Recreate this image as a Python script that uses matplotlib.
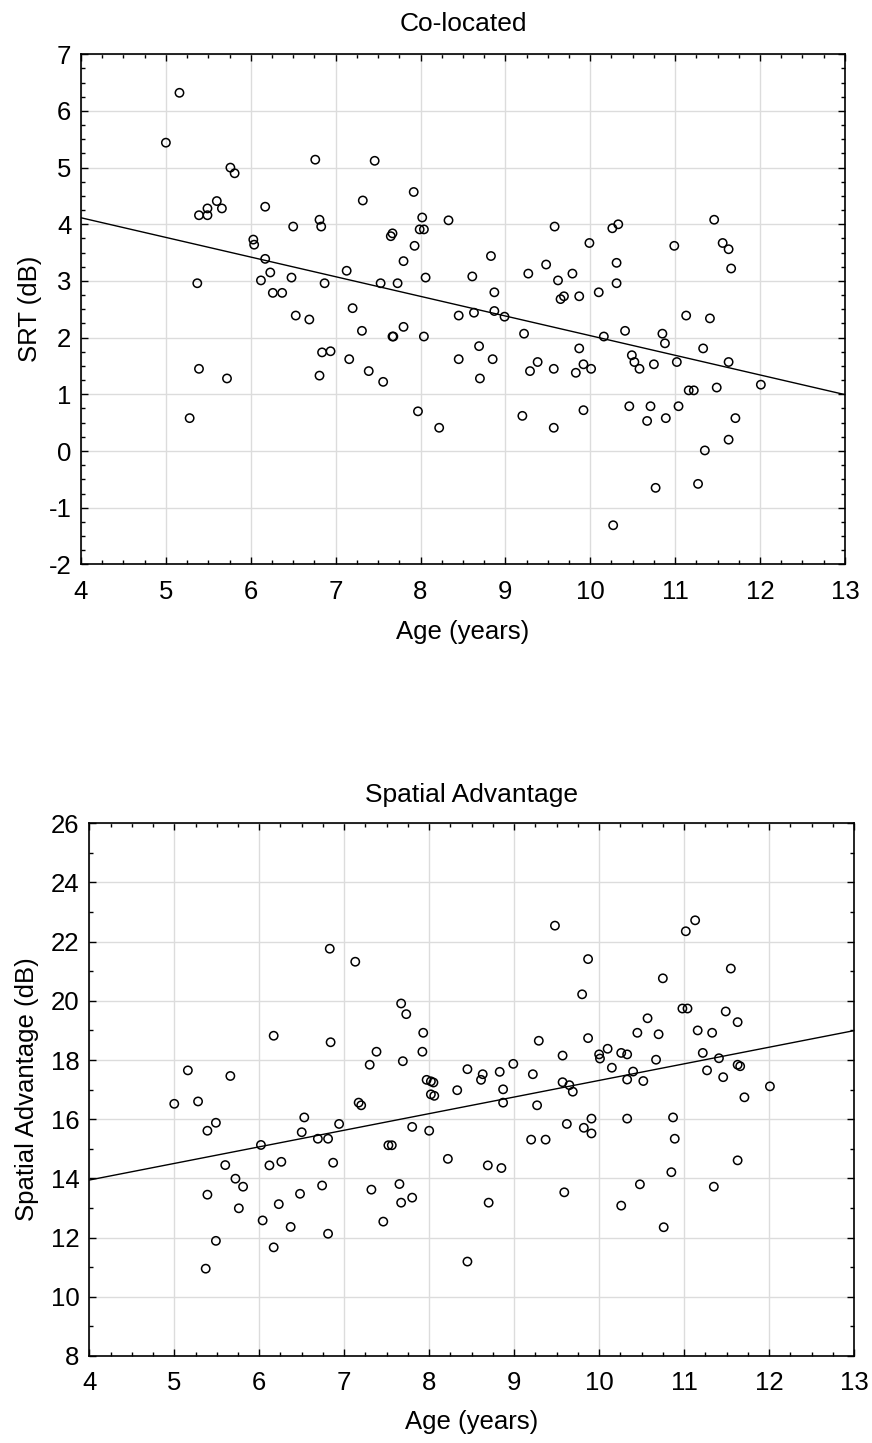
import numpy as np
import matplotlib
matplotlib.use("Agg")
import matplotlib.pyplot as plt
from matplotlib.ticker import MultipleLocator

plt.rcParams['font.family'] = ['Liberation Sans', 'DejaVu Sans']
plt.rcParams['axes.unicode_minus'] = False

# Co-located SRT (dB) vs age (years)
age_top = [5.16, 5.00, 5.76, 5.81, 6.76, 5.39, 5.49, 5.49, 5.60, 5.66, 6.17, 6.50,
           6.81, 6.83, 6.03, 6.04, 6.17, 6.23, 6.12, 6.48, 6.87, 6.26, 6.37, 6.53,
           6.69, 5.37, 6.84, 6.94, 6.81, 5.39, 5.72, 5.28,
           7.46, 7.32, 7.92, 8.02, 7.99, 8.04, 8.33, 7.67, 7.65, 7.93, 7.80, 7.13,
           7.53, 7.73, 8.06, 7.20, 7.31, 7.16, 7.39, 7.56, 7.67, 7.68, 7.80, 8.04,
           7.97, 8.22, 8.45, 8.63, 8.61, 8.83, 8.87, 8.87, 8.99, 8.45, 8.69, 8.85,
           8.70, 9.27, 9.48, 9.58, 9.62, 9.79, 9.99, 9.65, 9.69, 9.87, 9.22, 9.87,
           9.92, 10.01, 9.83, 9.57, 9.38, 9.29, 9.92, 9.20, 9.57,
           10.26, 10.33, 10.31, 10.31, 10.10, 10.99, 11.46, 11.56, 11.63, 11.66,
           11.13, 11.41, 10.41, 10.16, 10.85, 10.88, 11.33, 10.49, 10.52, 10.58,
           10.75, 11.02, 11.63, 11.16, 11.22, 11.49, 12.01, 10.46, 10.71, 11.04,
           10.67, 10.89, 11.71, 11.63, 11.35, 10.77, 11.27, 10.27]
srt_top = [6.32, 5.44, 5.00, 4.90, 5.14, 4.16, 4.28, 4.16, 4.41, 4.28, 4.31, 3.96,
           4.08, 3.96, 3.73, 3.64, 3.39, 3.15, 3.01, 3.06, 2.96, 2.79, 2.79, 2.39,
           2.32, 2.96, 1.74, 1.76, 1.33, 1.45, 1.28, 0.58,
           5.12, 4.42, 4.57, 4.12, 3.91, 3.91, 4.07, 3.84, 3.79, 3.62, 3.35, 3.18,
           2.96, 2.96, 3.06, 2.52, 2.12, 1.62, 1.41, 1.22, 2.02, 2.02, 2.19, 2.02,
           0.70, 0.41, 2.39, 2.44, 3.08, 3.44, 2.80, 2.47, 2.37, 1.62, 1.85, 1.62,
           1.28, 3.13, 3.29, 3.96, 3.01, 3.13, 3.67, 2.68, 2.73, 2.73, 2.07, 1.81,
           1.53, 1.45, 1.38, 1.45, 1.57, 1.41, 0.72, 0.62, 0.41,
           3.93, 4.00, 3.32, 2.96, 2.80, 3.62, 4.08, 3.67, 3.56, 3.22,
           2.39, 2.34, 2.12, 2.02, 2.07, 1.90, 1.81, 1.69, 1.57, 1.45,
           1.53, 1.57, 1.57, 1.07, 1.07, 1.12, 1.17, 0.79, 0.79, 0.79,
           0.53, 0.58, 0.58, 0.20, 0.01, -0.65, -0.58, -1.31]

# Spatial advantage (dB) vs age (years)
age_bot = [6.83, 6.17, 6.84, 5.16, 5.66, 5.00, 5.28, 5.49, 5.39, 6.53, 6.50, 6.94,
           6.02, 6.69, 6.81, 5.60, 6.12, 6.26, 6.87, 5.72, 5.81, 5.39, 6.48, 6.74,
           5.76, 6.23, 6.04, 6.37, 5.49, 6.17, 6.81, 5.37,
           7.13, 7.67, 7.73, 7.93, 7.38, 7.92, 7.30, 7.69, 7.97, 8.02, 8.05, 8.02,
           8.06, 7.17, 7.20, 7.80, 8.00, 7.52, 7.56, 8.22, 7.32, 7.65, 7.67, 7.80,
           7.46, 8.45, 8.45, 8.33, 8.63, 8.61, 8.83, 8.87, 8.87, 8.99, 8.69, 8.85,
           8.70, 9.48, 9.87, 9.80, 9.29, 9.87, 9.57, 9.22, 9.57, 9.65, 9.69, 9.27,
           9.91, 9.62, 9.82, 9.91, 9.20, 9.37, 9.59,
           11.02, 11.13, 11.55, 10.75, 10.98, 11.04, 11.49, 11.63, 10.57, 10.45,
           10.70, 11.16, 11.33, 10.10, 10.00, 10.01, 10.26, 10.33, 10.67, 11.22,
           11.41, 10.15, 10.40, 10.33, 10.52, 11.27, 11.46, 11.63, 11.66, 12.01,
           11.71, 10.33, 10.87, 10.89, 11.63, 10.85, 10.48, 11.35, 10.26, 10.76]
adv_bot = [21.76, 18.82, 18.60, 17.65, 17.46, 16.52, 16.60, 15.88, 15.61, 16.06,
           15.56, 15.84, 15.13, 15.34, 15.34, 14.45, 14.44, 14.56, 14.53, 13.99,
           13.72, 13.45, 13.48, 13.76, 12.99, 13.13, 12.58, 12.36, 11.89, 11.67,
           12.13, 10.95,
           21.32, 19.91, 19.55, 18.92, 18.28, 18.28, 17.84, 17.96, 17.33, 17.28,
           17.24, 16.84, 16.79, 16.56, 16.47, 15.74, 15.61, 15.12, 15.12, 14.66,
           13.62, 13.81, 13.18, 13.35, 12.54, 11.19, 17.69, 16.98, 17.52, 17.33,
           17.60, 17.01, 16.56, 17.87, 14.44, 14.35, 13.18, 22.54, 21.41, 20.22,
           18.65, 18.74, 18.15, 17.52, 17.25, 17.15, 16.93, 16.47, 16.02, 15.84,
           15.71, 15.52, 15.31, 15.31, 13.53,
           22.35, 22.72, 21.09, 20.76, 19.74, 19.74, 19.64, 19.28, 19.41, 18.92,
           18.87, 19.00, 18.92, 18.38, 18.19, 18.05, 18.24, 18.19, 18.01, 18.24,
           18.06, 17.74, 17.61, 17.34, 17.29, 17.65, 17.42, 17.84, 17.79, 17.11,
           16.74, 16.02, 16.06, 15.34, 14.61, 14.21, 13.80, 13.72, 13.08, 12.35]

panels = [
    dict(x=age_top, y=srt_top, title="Co-located", ylabel="SRT (dB)",
         ylim=(-2, 7), ymajor=1, yminor=0.25, rect=[0.0929, 0.6089, 0.876, 0.3535],
         ylab_x=-0.051, xlab_y=-0.110, pad=17),
    dict(x=age_bot, y=adv_bot, title="Spatial Advantage", ylabel="Spatial Advantage (dB)",
         ylim=(8, 26), ymajor=2, yminor=1, rect=[0.1024, 0.0603, 0.877, 0.3692],
         ylab_x=-0.066, xlab_y=-0.101, pad=15),
]

fig = plt.figure(figsize=(8.72, 14.43), dpi=100)

for p in panels:
    ax = fig.add_axes(p["rect"])
    x = np.array(p["x"])
    y = np.array(p["y"])
    ax.scatter(x, y, s=36, facecolors="none", edgecolors="black", linewidths=1.1, zorder=3)

    # linear fit
    b, a = np.polyfit(x, y, 1)
    xx = np.array([4, 13])
    ax.plot(xx, a + b * xx, color="black", linewidth=1.0, zorder=2)

    ax.set_xlim(4, 13)
    ax.set_ylim(*p["ylim"])
    ax.xaxis.set_major_locator(MultipleLocator(1))
    ax.xaxis.set_minor_locator(MultipleLocator(0.25))
    ax.yaxis.set_major_locator(MultipleLocator(p["ymajor"]))
    ax.yaxis.set_minor_locator(MultipleLocator(p["yminor"]))
    ax.tick_params(which="both", direction="in", top=True, right=True,
                   labelsize=18.5, width=1.0, color="black")
    ax.tick_params(which="major", length=5)
    ax.tick_params(which="minor", length=3)
    ax.tick_params(axis="x", which="major", pad=11)
    ax.tick_params(axis="y", which="major", pad=7)
    ax.grid(True, which="major", color="#dcdcdc", linewidth=1.0, zorder=0)
    ax.set_axisbelow(True)
    for s in ax.spines.values():
        s.set_linewidth(1.2)
    ax.set_title(p["title"], fontsize=19, pad=p["pad"])
    ax.set_xlabel("Age (years)", fontsize=18.5)
    ax.set_ylabel(p["ylabel"], fontsize=18.5)
    ax.xaxis.set_label_coords(0.5, p["xlab_y"])
    ax.yaxis.set_label_coords(p["ylab_x"], 0.5)

fig.savefig("out.png", dpi=100)
